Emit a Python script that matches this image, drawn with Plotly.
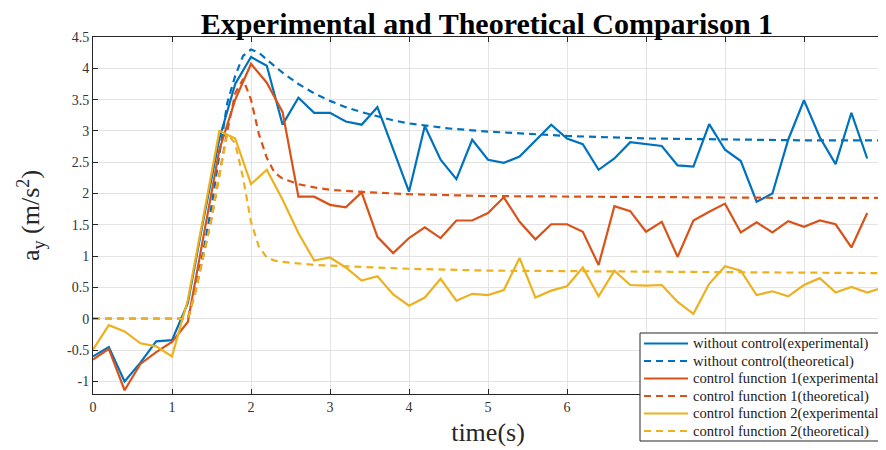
import plotly.graph_objects as go

# ---------------- data ----------------
t_exp = [0.0, 0.2, 0.4, 0.6, 0.8, 1.0, 1.2, 1.4, 1.6, 1.8,
         2.0, 2.2, 2.4, 2.6, 2.8, 3.0, 3.2, 3.4, 3.6, 3.8,
         4.0, 4.2, 4.4, 4.6, 4.8, 5.0, 5.2, 5.4, 5.6, 5.8,
         6.0, 6.2, 6.4, 6.6, 6.8, 7.0, 7.2, 7.4, 7.6, 7.8,
         8.0, 8.2, 8.4, 8.6, 8.8, 9.0, 9.2, 9.4, 9.6, 9.8]
t_exp_y2 = t_exp + [10.0]

no_ctrl_exp = [-0.60, -0.45, -1.00, -0.70, -0.36, -0.34, 0.25, 1.60, 2.88, 3.75,
               4.18, 4.04, 3.10, 3.53, 3.29, 3.29, 3.15, 3.10, 3.38, 2.70,
               2.03, 3.08, 2.54, 2.23, 2.86, 2.54, 2.49, 2.59, 2.85, 3.10,
               2.88, 2.79, 2.38, 2.56, 2.82, 2.79, 2.76, 2.45, 2.43, 3.11,
               2.70, 2.52, 1.87, 2.00, 2.86, 3.49, 2.90, 2.47, 3.29, 2.56]

cf1_exp = [-0.65, -0.48, -1.14, -0.72, -0.53, -0.37, -0.05, 1.35, 2.70, 3.50,
           4.07, 3.77, 3.30, 1.95, 1.95, 1.82, 1.78, 2.02, 1.31, 1.05,
           1.29, 1.46, 1.29, 1.57, 1.57, 1.69, 1.94, 1.55, 1.27, 1.51,
           1.51, 1.39, 0.86, 1.80, 1.72, 1.39, 1.55, 0.99, 1.57, 1.71,
           1.84, 1.38, 1.54, 1.38, 1.56, 1.47, 1.57, 1.51, 1.14, 1.69]

cf2_exp = [-0.49, -0.10, -0.20, -0.39, -0.44, -0.60, 0.30, 1.65, 3.00, 2.88,
           2.15, 2.38, 1.90, 1.37, 0.93, 0.98, 0.82, 0.61, 0.68, 0.39,
           0.21, 0.34, 0.64, 0.29, 0.40, 0.38, 0.46, 0.97, 0.34, 0.45,
           0.52, 0.82, 0.36, 0.77, 0.54, 0.53, 0.54, 0.27, 0.08, 0.56,
           0.84, 0.77, 0.38, 0.44, 0.36, 0.54, 0.65, 0.42, 0.51, 0.42, 0.50]

t_th_nc = [0, 1.2, 1.3, 1.4, 1.5, 1.6, 1.7, 1.8, 1.9, 2.0, 2.1, 2.2, 2.3, 2.4,
           2.6, 2.8, 3.0, 3.2, 3.4, 3.6, 3.8, 4.0, 4.5, 5.0, 5.5, 6.0, 7.0, 8.0, 9.0, 10.0]
no_ctrl_th = [0, 0, 0.5, 1.1, 1.8, 2.6, 3.45, 3.88, 4.2, 4.3, 4.25, 4.14, 4.03, 3.93,
              3.75, 3.6, 3.48, 3.38, 3.3, 3.23, 3.17, 3.12, 3.04, 2.99, 2.95, 2.92, 2.88, 2.86, 2.85, 2.85]

t_th_cf = [0, 1.2, 1.3, 1.4, 1.5, 1.6, 1.7, 1.8, 1.9, 2.0, 2.1, 2.2, 2.3, 2.4,
           2.6, 2.8, 3.0, 3.5, 4.0, 5.0, 6.0, 7.0, 8.0, 9.0, 10.0]
cf1_th = [0, 0, 0.45, 1.0, 1.6, 2.3, 3.0, 3.6, 3.83, 3.5, 2.95, 2.57, 2.33, 2.24,
          2.15, 2.1, 2.06, 2.02, 1.99, 1.96, 1.95, 1.94, 1.93, 1.93, 1.93]
cf2_th = [0, 0, 0.45, 1.0, 1.6, 2.3, 2.95, 2.8, 2.25, 1.55, 1.15, 0.98, 0.93, 0.91,
          0.88, 0.86, 0.85, 0.82, 0.80, 0.77, 0.76, 0.75, 0.74, 0.74, 0.73]

names = ["without control(experimental)", "without control(theoretical)",
         "control function 1(experimental", "control function 1(theoretical)",
         "control function 2(experimental", "control function 2(theoretical)"]

x_ticks = [0, 1, 2, 3, 4, 5, 6, 7, 8, 9, 10]
# labels 7-10 lie under the legend box in the reference
x_tick_text = ["0", "1", "2", "3", "4", "5", "6", "", "", "", ""]
y_ticks = [-1, -0.5, 0, 0.5, 1, 1.5, 2, 2.5, 3, 3.5, 4, 4.5]
y_tick_text = ["-1", "-0.5", "0", "0.5", "1", "1.5", "2", "2.5", "3", "3.5", "4", "4.5"]

BLUE = "#0072BD"
RED = "#D95319"
YEL = "#EDB120"
DASH = "7px,5px"

# ---------------- layout geometry (px) ----------------
W, H = 886, 450
ML, MR, MT, MB = 85, 11, 29, 64
PW, PH = W - ML - MR, H - MT - MB


def px_x(X):
    return (X - ML) / PW


def px_y(Y):
    return (H - MB - Y) / PH


fig = go.Figure()
series = [
    (t_exp, no_ctrl_exp, BLUE, "solid"),
    (t_th_nc, no_ctrl_th, BLUE, DASH),
    (t_exp, cf1_exp, RED, "solid"),
    (t_th_cf, cf1_th, RED, DASH),
    (t_exp_y2, cf2_exp, YEL, "solid"),
    (t_th_cf, cf2_th, YEL, DASH),
]
for (x, y, c, d), n in zip(series, names):
    fig.add_trace(go.Scatter(x=x, y=y, mode="lines", name=n, showlegend=False,
                             line=dict(color=c, width=2.2, dash=d)))

serif = "Liberation Serif, Times New Roman, serif"

# ---- legend box (drawn like the MATLAB legend) ----
LEG_L, LEG_T, LEG_B, LEG_R = 632, 325, 433, 892
shapes = [dict(type="rect", xref="paper", yref="paper", layer="above",
               x0=px_x(LEG_L), x1=px_x(LEG_R), y0=px_y(LEG_B), y1=px_y(LEG_T),
               fillcolor="white", line=dict(color="#262626", width=1))]
annotations = []
row0, row_h = 335.5, 17.5
for i, ((x, y, c, d), n) in enumerate(zip(series, names)):
    yy = px_y(row0 + row_h * i)
    shapes.append(dict(type="line", xref="paper", yref="paper", layer="above",
                       x0=px_x(636), x1=px_x(680), y0=yy, y1=yy,
                       line=dict(color=c, width=2.2, dash=d)))
    annotations.append(dict(text=n, xref="paper", yref="paper", x=px_x(683), y=yy,
                            xanchor="left", yanchor="middle", showarrow=False,
                            font=dict(family=serif, size=14.6, color="#1a1a1a")))

axis_common = dict(showgrid=True, gridcolor="#e3e3e3", gridwidth=1,
                   showline=True, linecolor="#262626", linewidth=1, mirror="ticks",
                   ticks="inside", ticklen=5, tickcolor="#262626", automargin=False,
                   zeroline=False, tickfont=dict(family=serif, size=14, color="#333333"))

fig.update_xaxes(range=[0, 10], tickvals=x_ticks, ticktext=x_tick_text, **axis_common,
                 title=dict(text="time(s)", font=dict(family=serif, size=26, color="#262626"),
                            standoff=9))
fig.update_yaxes(range=[-1.2, 4.5], tickvals=y_ticks, ticktext=y_tick_text, **axis_common,
                 title=dict(text="a<sub>y</sub> (m/s<sup>2</sup>)",
                            font=dict(family=serif, size=26, color="#262626"), standoff=19))

fig.update_layout(
    width=W, height=H,
    margin=dict(l=ML, r=MR, t=MT, b=MB, autoexpand=False),
    paper_bgcolor="white", plot_bgcolor="white",
    title=dict(text="<b>Experimental and Theoretical Comparison 1</b>",
               font=dict(family=serif, size=30, color="black"),
               x=0.5406, xanchor="center", y=0.966, yanchor="middle"),
    shapes=shapes,
    annotations=annotations,
    showlegend=False,
)

fig.write_html("out.html")
